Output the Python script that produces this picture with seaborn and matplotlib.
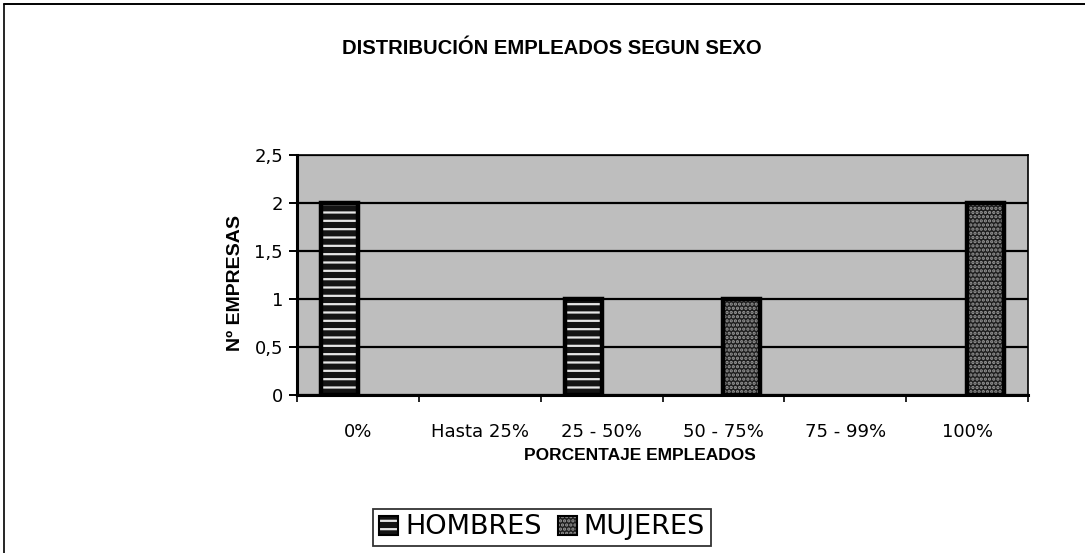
import matplotlib
matplotlib.use("Agg")
import matplotlib.pyplot as plt
import seaborn as sns
import pandas as pd
from matplotlib.patches import Patch, Rectangle
from matplotlib.lines import Line2D
from matplotlib.ticker import FixedLocator

# ---- data ----
categories = ['0%', 'Hasta 25%', '25 - 50%', '50 - 75%', '75 - 99%', '100%']
hombres = [2, 0, 1, 0, 0, 0]
mujeres = [0, 0, 0, 1, 0, 2]
series_names = ['HOMBRES', 'MUJERES']
y_ticks = [0, 0.5, 1, 1.5, 2, 2.5]
y_tick_labels = ['0', '0,5', '1', '1,5', '2', '2,5']

title = 'DISTRIBUCIÓN EMPLEADOS SEGUN SEXO'
x_title = 'PORCENTAJE EMPLEADOS'
y_title = 'Nº EMPRESAS'

df = pd.DataFrame({
    'cat': categories * 2,
    'val': hombres + mujeres,
    'sexo': [series_names[0]] * len(categories) + [series_names[1]] * len(categories),
})

sns.set_theme(style='white')
plt.rcParams['font.family'] = ['DejaVu Sans']
plt.rcParams['hatch.linewidth'] = 1.6
for k in ['text.color', 'axes.labelcolor', 'xtick.color', 'ytick.color']:
    plt.rcParams[k] = 'black'

fig = plt.figure(figsize=(10.85, 5.53), dpi=100)
ax = fig.add_axes([297 / 1085, 1 - 395 / 553, (1028 - 297) / 1085, 240 / 553])

face_cols = {'HOMBRES': '#141414', 'MUJERES': '#1e1e1e'}
hatch_cols = {'HOMBRES': '#e6e6e6', 'MUJERES': '#9a9a9a'}
hatches = {'HOMBRES': '--', 'MUJERES': '....'}

sns.barplot(data=df, x='cat', y='val', hue='sexo', order=categories,
            hue_order=series_names, palette=face_cols, width=0.6,
            errorbar=None, dodge=True, legend=False, ax=ax, zorder=3)

for cont, name in zip(ax.containers, series_names):
    for p in cont.patches:
        if p.get_height() == 0:
            p.set_visible(False)
            continue
        p.set_facecolor(face_cols[name])
        p.set_edgecolor(hatch_cols[name])
        p.set_hatch(hatches[name])
        p.set_linewidth(0)
        ax.add_patch(Rectangle(p.get_xy(), p.get_width(), p.get_height(),
                               fill=False, edgecolor='black', linewidth=3.2,
                               zorder=4))

ax.set_facecolor('#bebebe')
ax.set_ylim(0, 2.5)
ax.set_xlim(-0.5, len(categories) - 0.5)
ax.set_yticks(y_ticks)
ax.set_yticklabels(y_tick_labels, fontsize=13)
ax.yaxis.grid(True, color='black', linewidth=1.6, zorder=1)
ax.set_axisbelow(True)

ax.set_xticks(range(len(categories)))
ax.set_xticklabels(categories, fontsize=13)
ax.xaxis.set_minor_locator(FixedLocator([i - 0.5 for i in range(len(categories) + 1)]))
ax.tick_params(axis='x', which='major', length=0, pad=20)
ax.tick_params(axis='x', which='minor', length=5, width=1.2, color='black', direction='out', bottom=True)
ax.tick_params(axis='y', which='major', length=6, width=1.4, color='black', direction='out', left=True, pad=4)

for s in ['left', 'bottom']:
    ax.spines[s].set_color('black')
    ax.spines[s].set_linewidth(2.2)
for s in ['top', 'right']:
    ax.spines[s].set_color('black')
    ax.spines[s].set_linewidth(1.2)

ax.set_xlabel(x_title, fontsize=12.5, fontweight='bold', family='Liberation Sans')
ax.xaxis.set_label_coords((640 - 297) / 731, -0.25)
ax.set_ylabel(y_title, fontsize=14, fontweight='bold', family='Liberation Sans')
ax.yaxis.set_label_coords((235 - 297) / 731, 0.467)
ax.xaxis.label.set_va('center')
ax.yaxis.label.set_va('center')

fig.text(552 / 1085, 1 - 49 / 553, title, ha='center', va='center',
         fontsize=14.6, fontweight='bold', family='Liberation Sans')

handles = []
for name in series_names:
    handles.append((Patch(facecolor=face_cols[name], edgecolor=hatch_cols[name],
                          hatch=hatches[name], linewidth=0),
                    Patch(fill=False, edgecolor='black', linewidth=1.5)))
leg = fig.legend(handles, series_names, loc='center', bbox_to_anchor=(542 / 1085, 1 - 527.5 / 553),
                 ncol=2, frameon=True, fancybox=False, edgecolor='black',
                 prop={'size': 19.5}, handlelength=0.7, handleheight=0.7,
                 handletextpad=0.25, columnspacing=0.6, borderpad=0.22,
                 borderaxespad=0)
leg.get_frame().set_linewidth(1.3)

fig.add_artist(Line2D([0.004, 1.0], [1 - 4 / 553, 1 - 4 / 553], color='black', linewidth=1.4, transform=fig.transFigure))
fig.add_artist(Line2D([0.004, 0.004], [1 - 4 / 553, 0.0], color='black', linewidth=1.2, transform=fig.transFigure))

fig.savefig('out.png', dpi=100, facecolor='white')
